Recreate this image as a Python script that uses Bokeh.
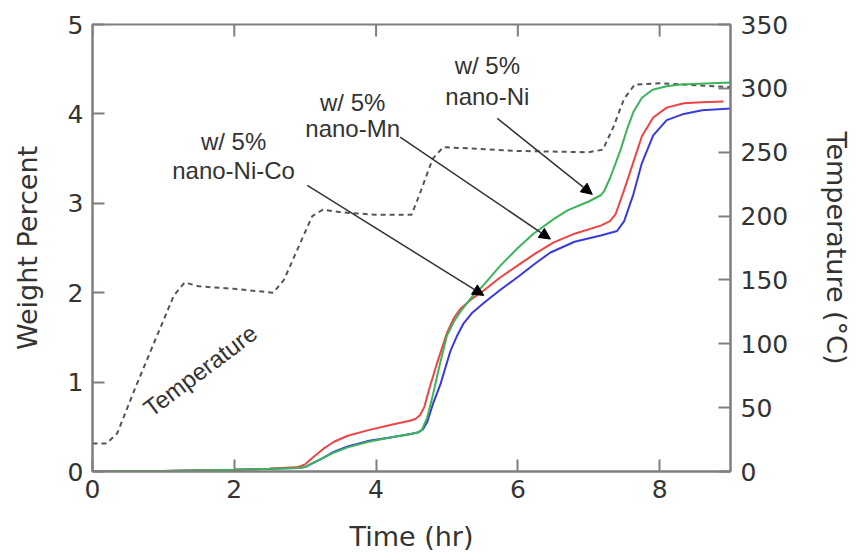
from bokeh.plotting import figure
from bokeh.models import LinearAxis, Range1d, Arrow, NormalHead, Label, FixedTicker
from bokeh.embed import file_html
from bokeh.resources import INLINE

# ---- data ----
t_temp = [0.0, 0.2, 0.35, 0.6, 0.9, 1.15, 1.3, 1.5, 2.0, 2.55, 2.7, 2.9, 3.1, 3.25, 3.5, 4.0, 4.5,
          4.6, 4.8, 4.95, 5.3, 6.0, 7.0, 7.2, 7.35, 7.5, 7.65, 8.0, 9.0]
temp_c = [22, 22, 30, 65, 105, 138, 148, 145, 143, 140, 150, 175, 200, 205, 203, 201, 201,
          215, 245, 254, 253, 251, 250, 252, 270, 292, 303, 304, 301]

t_ni = [0.0, 1.0, 2.0, 2.5, 2.9, 3.0, 3.1, 3.25, 3.4, 3.6, 3.88, 4.2, 4.49, 4.6, 4.65, 4.72, 4.8,
        4.9, 5.0, 5.1, 5.2, 5.37, 5.5, 5.75, 6.0, 6.22, 6.5, 6.7, 7.0, 7.17, 7.22, 7.3, 7.38, 7.45,
        7.55, 7.63, 7.75, 7.9, 8.1, 8.3, 9.0]
w_ni = [0.0, 0.005, 0.02, 0.03, 0.04, 0.05, 0.09, 0.15, 0.21, 0.27, 0.33, 0.38, 0.42, 0.44, 0.47,
        0.6, 0.85, 1.2, 1.52, 1.68, 1.8, 1.97, 2.07, 2.3, 2.5, 2.66, 2.82, 2.92, 3.02, 3.09, 3.14,
        3.28, 3.45, 3.6, 3.85, 4.02, 4.18, 4.27, 4.31, 4.33, 4.35]

t_mn = [0.0, 1.0, 2.0, 2.5, 2.9, 3.0, 3.1, 3.25, 3.4, 3.6, 3.88, 4.2, 4.49, 4.56, 4.62, 4.68,
        4.76, 4.86, 5.0, 5.1, 5.19, 5.35, 5.51, 5.75, 5.99, 6.25, 6.5, 6.8, 7.17, 7.3, 7.38, 7.5,
        7.63, 7.75, 7.91, 8.1, 8.34, 8.6, 8.9]
w_mn = [0.0, 0.005, 0.02, 0.03, 0.05, 0.08, 0.15, 0.25, 0.33, 0.4, 0.46, 0.52, 0.57, 0.59, 0.63,
        0.72, 0.95, 1.21, 1.55, 1.72, 1.82, 1.93, 2.02, 2.17, 2.3, 2.44, 2.56, 2.66, 2.75, 2.8,
        2.88, 3.15, 3.46, 3.75, 3.96, 4.07, 4.12, 4.13, 4.14]

t_nico = [0.0, 1.0, 2.0, 2.5, 2.9, 3.0, 3.1, 3.25, 3.4, 3.6, 3.88, 4.2, 4.49, 4.6, 4.66, 4.72,
          4.8, 4.91, 5.05, 5.15, 5.23, 5.35, 5.51, 5.75, 5.99, 6.25, 6.46, 6.8, 7.17, 7.4, 7.5,
          7.63, 7.75, 7.91, 8.1, 8.34, 8.6, 9.0]
w_nico = [0.0, 0.005, 0.02, 0.03, 0.04, 0.05, 0.09, 0.15, 0.22, 0.28, 0.34, 0.38, 0.42, 0.44,
          0.47, 0.55, 0.75, 0.98, 1.35, 1.53, 1.65, 1.77, 1.88, 2.03, 2.17, 2.33, 2.45, 2.57, 2.64,
          2.69, 2.8, 3.1, 3.45, 3.76, 3.93, 4.0, 4.04, 4.06]

x_ticks = [0, 2, 4, 6, 8]
y_ticks = [0, 1, 2, 3, 4, 5]
temp_ticks = [0, 50, 100, 150, 200, 250, 300, 350]

# annotations: (line1, line2, x, y_line1, y_line2) and arrows (x_tail, y_tail, x_tip, y_tip)
labels_nico = ("w/ 5%", "nano-Ni-Co", 1.99, 3.69, 3.37)
labels_mn = ("w/ 5%", "nano-Mn", 3.67, 4.13, 3.84)
labels_ni = ("w/ 5%", "nano-Ni", 5.57, 4.54, 4.2)
arrow_nico = (3.03, 3.2, 5.52, 1.97)
arrow_mn = (4.34, 3.74, 6.46, 2.6)
arrow_ni = (5.71, 3.95, 7.05, 3.1)
temp_label = ("Temperature", 1.52, 1.13)

AX = "#7f7f7f"
TXT = "#333333"
FONT = "DejaVu Sans"
AFONT = "Liberation Sans"
TICK_LEN = 12

p = figure(width=857, height=556, x_range=Range1d(0, 9), y_range=Range1d(0, 5),
           output_backend="svg", toolbar_location=None,
           min_border_left=92, min_border_right=127, min_border_top=24, min_border_bottom=85)
p.extra_y_ranges = {"temp": Range1d(0, 350)}
p.grid.visible = False
p.outline_line_color = AX
p.outline_line_width = 2
p.background_fill_color = "white"
p.border_fill_color = "white"

def style_axis(ax, ticks):
    ax.ticker = FixedTicker(ticks=ticks)
    ax.major_tick_in = TICK_LEN
    ax.major_tick_out = 0
    ax.minor_tick_line_color = None
    ax.axis_line_color = AX
    ax.axis_line_width = 2
    ax.major_tick_line_color = AX
    ax.major_tick_line_width = 2
    ax.major_label_text_font = FONT
    ax.major_label_text_font_size = "25px"
    ax.major_label_text_color = TXT
    ax.axis_label_text_font = FONT
    ax.axis_label_text_font_size = "27px"
    ax.axis_label_text_font_style = "normal"
    ax.axis_label_text_color = TXT

style_axis(p.xaxis[0], x_ticks)
p.xaxis[0].axis_label = "Time (hr)"
p.xaxis[0].major_label_standoff = 8
p.xaxis[0].axis_label_standoff = 20
style_axis(p.yaxis[0], y_ticks)
p.yaxis[0].axis_label = "Weight Percent"
p.yaxis[0].major_label_standoff = 9
p.yaxis[0].axis_label_standoff = 22

right = LinearAxis(y_range_name="temp", axis_label="Temperature (°C)")
style_axis(right, temp_ticks)
right.major_label_standoff = 10
right.axis_label_standoff = 30
p.add_layout(right, "right")

# inward ticks on the top edge of the frame
p.segment(x0=x_ticks, y0=[5] * len(x_ticks), x1=x_ticks,
          y1=[5 - TICK_LEN / 89.4] * len(x_ticks), line_color=AX, line_width=2)

p.line(t_temp, temp_c, y_range_name="temp", line_color="#555555", line_width=2, line_dash="5 4")
p.line(t_nico, w_nico, line_color="#3a3ad8", line_width=2)
p.line(t_mn, w_mn, line_color="#ee4444", line_width=2)
p.line(t_ni, w_ni, line_color="#3cb45a", line_width=2)

for (l1, l2, x, y1, y2) in (labels_nico, labels_mn, labels_ni):
    for txt, yy in ((l1, y1), (l2, y2)):
        p.add_layout(Label(x=x, y=yy, text=txt, text_align="center", text_baseline="middle",
                           text_font=AFONT, text_font_size="24px", text_color=TXT))

for (x0, y0, x1, y1) in (arrow_nico, arrow_mn, arrow_ni):
    p.add_layout(Arrow(x_start=x0, y_start=y0, x_end=x1, y_end=y1, line_color="#333333",
                       line_width=1.5,
                       end=NormalHead(size=11, fill_color="black", line_color="black")))

p.add_layout(Label(x=temp_label[1], y=temp_label[2], text=temp_label[0], angle=37,
                   angle_units="deg", text_align="center", text_baseline="middle",
                   text_font=AFONT, text_font_size="24px", text_color=TXT))

open("out.html", "w").write(file_html(p, INLINE))
